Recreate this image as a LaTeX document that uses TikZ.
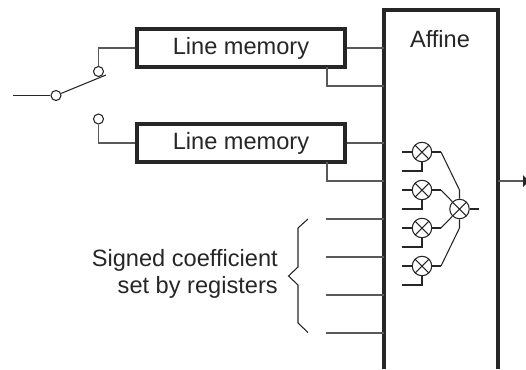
\documentclass[tikz,border=0pt]{standalone}
\usepackage{fontspec}
\setmainfont{Liberation Sans}
\tikzstyle{txt}=[font=\fontsize{17.7pt}{20.3pt}\selectfont,text=black!85,inner sep=0pt]
\tikzstyle{mem}=[txt,draw=black!85,line width=2.6pt,minimum width=156pt,minimum height=28.5pt]
\tikzstyle{sw}=[draw=black!85,circle,fill=white,line width=0.8pt,minimum width=7.5pt,inner sep=0pt]
\tikzstyle{mult}=[draw=black!85,circle,line width=0.8pt,minimum width=14.6pt,inner sep=0pt,path picture={\draw[black!85,line width=0.8pt] (path picture bounding box.south west) -- (path picture bounding box.north east) (path picture bounding box.north west) -- (path picture bounding box.south east);}]
\tikzstyle{ed}=[draw=black!65,line width=0.95pt]
\tikzstyle{wire}=[draw=black!85,line width=0.8pt]

\begin{document}
\begin{tikzpicture}[x=0.75pt,y=-0.75pt]
  \useasboundingbox (0,0) rectangle (526,369);

  \node[mem] (m1) at (241,48) {Line memory};
  \node[mem] (m2) at (241,143) {Line memory};

  % switch
  \coordinate (in) at (13,95.5);
  \coordinate (tip) at (106,75);
  \node[sw] (s0) at (56,95.5) {};
  \node[sw] (s1) at (98.5,71.5) {};
  \node[sw] (s2) at (98.5,119) {};
  \path[wire] (in) -- (s0);
  \path[wire] (s0) -- (tip);
  \path[ed] (s1) |- (m1.west);
  \path[ed] (s2) |- (m2.west);

  % affine block
  \coordinate (atl) at (384,10);
  \coordinate (atr) at (498,10);
  \coordinate (abl) at (384,369);
  \coordinate (abr) at (498,369);
  \draw[black!85,line width=2.4pt] (abl) -- (atl) -- (atr) -- (abr);
  \node[txt] (aff) at (440,39.5) {Affine};

  % inputs
  \coordinate (m1a) at (384,48);
  \coordinate (m1b) at (384,86);
  \coordinate (m2a) at (384,143);
  \coordinate (m2b) at (384,181);
  \coordinate (j1) at (327,67);
  \coordinate (j2) at (327,162);
  \path[ed] (m1.east) -- (m1a);
  \path[ed] (j1) |- (m1b);
  \path[ed] (m2.east) -- (m2a);
  \path[ed] (j2) |- (m2b);

  \foreach \y/\n in {219/c1,257/c2,295/c3,333/c4}{
    \coordinate (\n) at (326,\y);
    \coordinate (\n e) at (384,\y);
    \path[ed] (\n) -- (\n e);
  }

  % multipliers
  \foreach \y/\n in {152/x1,190/x2,228/x3,266/x4}{
    \node[mult] (\n) at (422,\y) {};
    \coordinate (\n a) at (402,\y);
    \coordinate (\n b) at (402,\y+19);
    \coordinate (\n c) at (441,\y);
    \path[wire] (\n a) -- (\n);
    \path[wire] (\n b) -| (\n);
    \path[wire] (\n) -- (\n c);
  }
  \node[mult] (sum) at (459.5,209) {};
  \coordinate (sumo) at (479,209);
  \coordinate (u1) at (459.5,190);
  \coordinate (u2) at (459.5,228);
  \path[wire] (sum) -- (sumo);
  \path[wire] (x1c) -- (u1) -- (sum);
  \path[wire] (x2c) -- (sum);
  \path[wire] (x3c) -- (sum);
  \path[wire] (x4c) -- (u2) -- (sum);

  % output
  \coordinate (out) at (524,181);
  \coordinate (oute) at (498,181);
  \path[ed] (oute) -- (out);
  \fill[black!85] (523,175) -- (529,181) -- (523,187) -- cycle;

  % brace
  \coordinate (b1) at (308,219);
  \coordinate (b2) at (298,228);
  \coordinate (b3) at (298,267);
  \coordinate (b4) at (288.5,276);
  \coordinate (b5) at (298,285);
  \coordinate (b6) at (298,323);
  \coordinate (b7) at (308,332.5);
  \path[wire] (b1) -- (b2) -- (b3) -- (b4) -- (b5) -- (b6) -- (b7);

  \node[txt,align=right,anchor=east] (lbl) at (278,273.5) {Signed coefficient\\set by registers};
\end{tikzpicture}
\end{document}
